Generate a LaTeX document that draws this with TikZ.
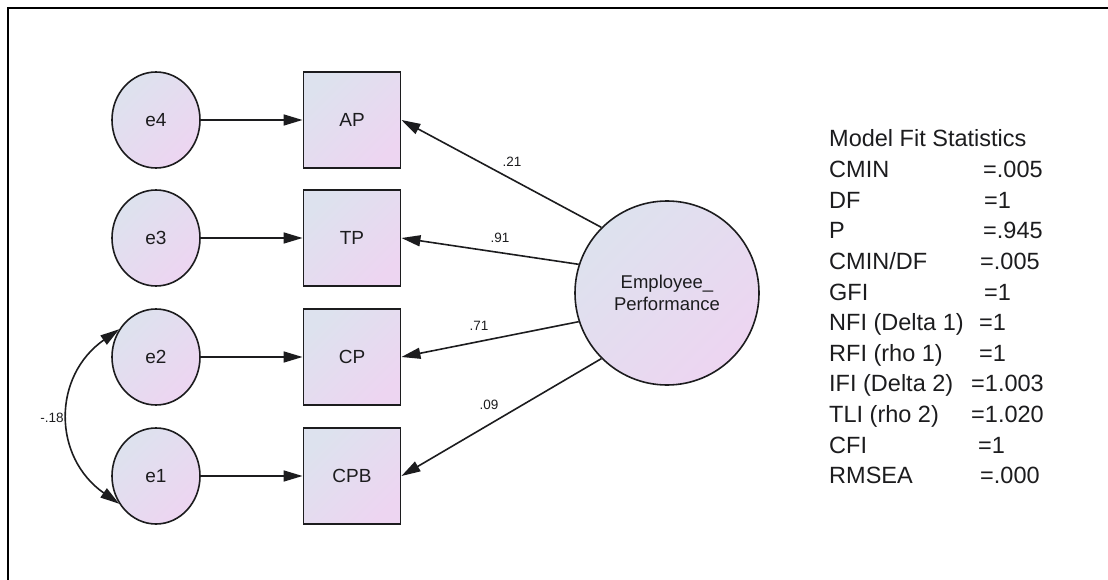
\documentclass[tikz,border=0pt]{standalone}
\usepackage{fontspec}
\setmainfont{Liberation Sans}
\usetikzlibrary{shapes.geometric,arrows.meta}
\definecolor{blu}{RGB}{221,226,238}
\definecolor{pnk}{RGB}{237,213,241}
\definecolor{ink}{RGB}{28,28,30}
\begin{document}
\begin{tikzpicture}[x=1pt,y=1pt,
  errnode/.style={ellipse,draw=ink,line width=1.6pt,minimum width=88pt,minimum height=96pt,inner sep=0pt,
    top color=blu,bottom color=pnk,shading angle=45,text=ink,font=\fontsize{19}{21}\selectfont},
  obsnode/.style={rectangle,draw=ink,line width=1.9pt,minimum width=97pt,minimum height=96pt,inner sep=0pt,
    top color=blu,bottom color=pnk,shading angle=45,text=ink,font=\fontsize{19}{21}\selectfont},
  latnode/.style={circle,draw=ink,line width=1.6pt,minimum size=184pt,inner sep=0pt,align=center,
    top color=blu,bottom color=pnk,shading angle=45,text=ink,font=\fontsize{18.5}{21.5}\selectfont},
  conn/.style={draw=ink,line width=1.6pt,-{Triangle[length=19pt,width=11pt]}},
  cov/.style={draw=ink,line width=1.6pt,{Triangle[length=19pt,width=11pt]}-{Triangle[length=19pt,width=11pt]}},
  coef/.style={text=ink,font=\fontsize{13.5}{15}\selectfont,inner sep=0pt},
  stat/.style={text=ink,font=\fontsize{23.5}{26}\selectfont,inner sep=0pt,anchor=base west}
]
\useasboundingbox (0,0) rectangle (1108,-580);
\draw[line width=1.6pt,black] (8,-580) -- (8,-8) -- (1108,-8);

\node[errnode] (e4) at (156,-120) {e4};
\node[errnode] (e3) at (156,-238) {e3};
\node[errnode] (e2) at (156,-357) {e2};
\node[errnode] (e1) at (156,-476) {e1};

\node[obsnode] (AP)  at (352,-120) {AP};
\node[obsnode] (TP)  at (352,-238) {TP};
\node[obsnode] (CP)  at (352,-357) {CP};
\node[obsnode] (CPB) at (352,-476) {CPB};

\node[latnode] (EP) at (667,-293) {Employee\_\\Performance};

\draw[conn] (e4) -- (AP);
\draw[conn] (e3) -- (TP);
\draw[conn] (e2) -- (CP);
\draw[conn] (e1) -- (CPB);

\draw[conn] (EP.135) -- (AP.east);
\draw[conn] (EP.162) -- (TP.east);
\draw[conn] (EP.198) -- (CP.east);
\draw[conn] (EP.225) -- (CPB.east);

\draw[cov] (e2.143) to[out=215,in=145,looseness=1.2] (e1.217);

\node[coef] (c1) at (512,-162) {.21};
\node[coef] (c2) at (500,-238) {.91};
\node[coef] (c3) at (479,-326) {.71};
\node[coef] (c4) at (489,-405) {.09};
\node[coef] (c5) at (52,-418) {-.18};

\node[stat] (s0)  at (829,-147.0) {Model Fit Statistics};
\node[stat] (s1)  at (829,-177.6) {CMIN};
\node[stat] (s2)  at (829,-208.2) {DF};
\node[stat] (s3)  at (829,-238.8) {P};
\node[stat] (s4)  at (829,-269.4) {CMIN/DF};
\node[stat] (s5)  at (829,-300.0) {GFI};
\node[stat] (s6)  at (829,-330.6) {NFI (Delta 1)};
\node[stat] (s7)  at (829,-361.2) {RFI (rho 1)};
\node[stat] (s8)  at (829,-391.8) {IFI (Delta 2)};
\node[stat] (s9)  at (829,-422.4) {TLI (rho 2)};
\node[stat] (s10) at (829,-453.0) {CFI};
\node[stat] (s11) at (829,-483.6) {RMSEA};

\node[stat] (v1)  at (983,-177.6) {=.005};
\node[stat] (v2)  at (984,-208.2) {=1};
\node[stat] (v3)  at (983,-238.8) {=.945};
\node[stat] (v4)  at (980,-269.4) {=.005};
\node[stat] (v5)  at (984,-300.0) {=1};
\node[stat] (v6)  at (979,-330.6) {=1};
\node[stat] (v7)  at (979,-361.2) {=1};
\node[stat] (v8)  at (971,-391.8) {=1.003};
\node[stat] (v9)  at (971,-422.4) {=1.020};
\node[stat] (v10) at (978,-453.0) {=1};
\node[stat] (v11) at (980,-483.6) {=.000};
\end{tikzpicture}
\end{document}
